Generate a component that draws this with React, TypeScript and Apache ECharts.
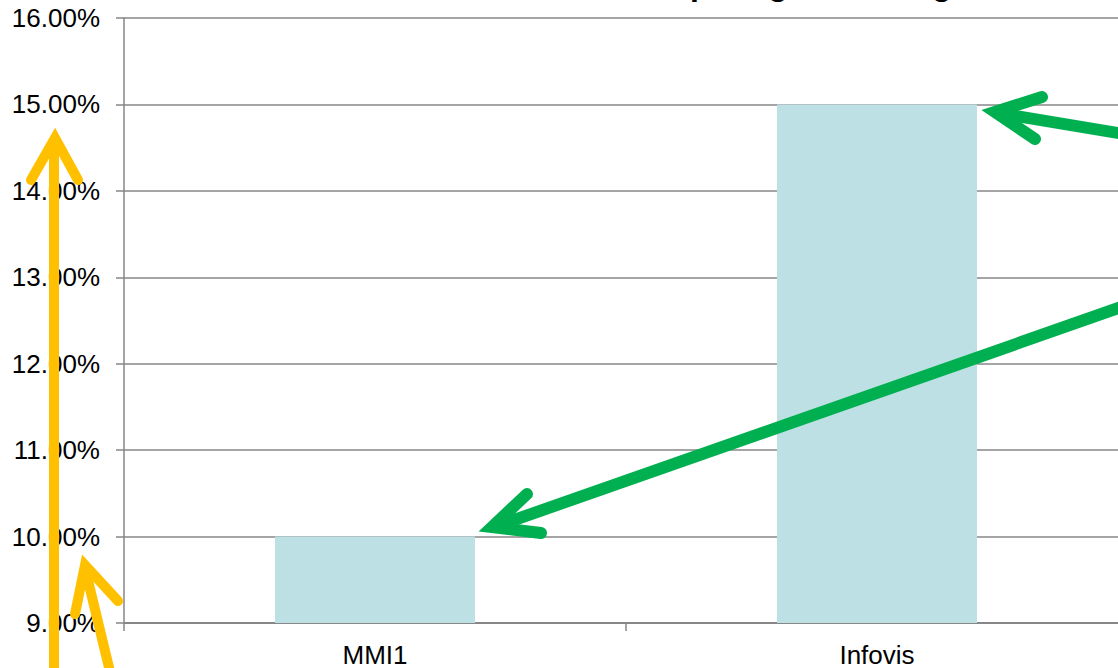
import React, { useEffect, useRef } from "react";
import * as echarts from "echarts";

const categories = ["MMI1", "Infovis"];
const values = [10, 15];
const yMin = 9;
const yMax = 16;
const yStep = 1;
const titleText = "Comparing Percentages";

export default function App() {
  const ref = useRef<HTMLDivElement>(null);
  useEffect(() => {
    document.body.style.margin = "0";
    const chart = echarts.init(ref.current!, undefined, { renderer: "svg" });
    const yellow = "#FFC000";
    const green = "#00B050";
    const arrowStyle = (c: string, w: number) => ({
      stroke: c,
      lineWidth: w,
      fill: null,
      lineCap: "round",
      lineJoin: "miter",
      miterLimit: 10,
    });
    chart.setOption({
      animation: false,
      grid: { left: 124, right: 12, top: 18, bottom: 43, containLabel: false },
      xAxis: {
        type: "category",
        data: categories,
        axisLine: { lineStyle: { color: "#878787", width: 2 } },
        axisTick: { show: true, length: 8, lineStyle: { color: "#878787", width: 1.5 } },
        axisLabel: { color: "#000", fontSize: 26, fontFamily: "Liberation Sans, Arial", margin: 19 },
      },
      yAxis: {
        type: "value",
        min: yMin,
        max: yMax,
        interval: yStep,
        axisLine: { show: true, lineStyle: { color: "#878787", width: 1.5 } },
        axisTick: { show: true, length: 8, lineStyle: { color: "#878787", width: 1.5 } },
        splitLine: { lineStyle: { color: "#878787", width: 1.5 } },
        axisLabel: {
          color: "#000",
          fontSize: 26,
          fontFamily: "Liberation Sans, Arial",
          margin: 24,
          formatter: (v: number) => v.toFixed(2) + "%",
        },
      },
      series: [
        {
          type: "bar",
          data: values,
          barWidth: 200,
          itemStyle: { color: "#BCE0E3" },
        },
      ],
      graphic: [
        {
          type: "text",
          x: 619,
          y: 0,
          style: {
            text: titleText,
            font: "bold 32px Liberation Sans, Arial",
            fill: "#000",
            align: "left",
            verticalAlign: "bottom",
          },
          z: 100,
        },
        // yellow arrow 1 (vertical)
        { type: "line", shape: { x1: 54, y1: 680, x2: 54, y2: 142 }, style: arrowStyle(yellow, 10), z: 100 },
        { type: "polyline", shape: { points: [[31, 180], [55, 138], [78, 180]] }, style: arrowStyle(yellow, 10), z: 100 },
        // yellow arrow 2 (slanted)
        { type: "line", shape: { x1: 112, y1: 680, x2: 85, y2: 568 }, style: arrowStyle(yellow, 10), z: 100 },
        { type: "polyline", shape: { points: [[75, 614], [85, 565], [118, 601]] }, style: arrowStyle(yellow, 10), z: 100 },
        // green arrow 1
        { type: "line", shape: { x1: 1130, y1: 135, x2: 998, y2: 113 }, style: arrowStyle(green, 12), z: 100 },
        { type: "polyline", shape: { points: [[1042, 97], [995, 112], [1035, 139]] }, style: arrowStyle(green, 12), z: 100 },
        // green arrow 2
        { type: "line", shape: { x1: 1130, y1: 304, x2: 497, y2: 526 }, style: arrowStyle(green, 12), z: 100 },
        { type: "polyline", shape: { points: [[527, 494], [492, 527], [541, 533]] }, style: arrowStyle(green, 12), z: 100 },
      ],
    });
    return () => chart.dispose();
  }, []);
  return (
    <div style={{ width: 1118, height: 668, overflow: "hidden", position: "relative" }}>
      <div ref={ref} style={{ width: 1140, height: 668 }} />
    </div>
  );
}
